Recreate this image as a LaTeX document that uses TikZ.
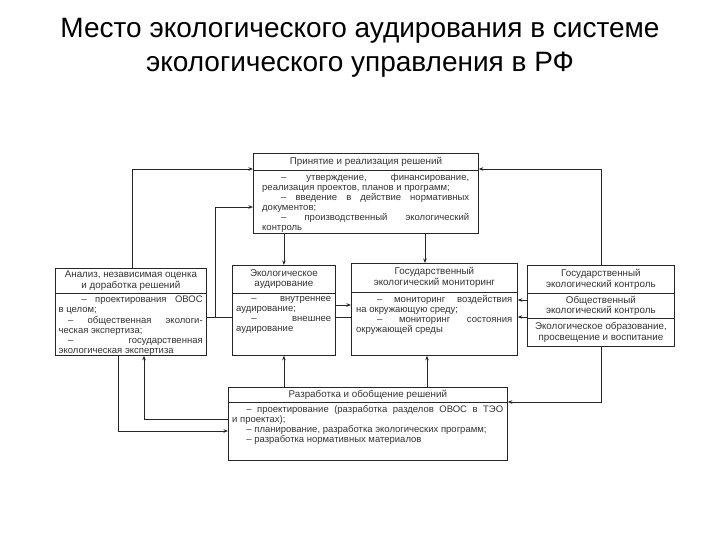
\documentclass[tikz,border=0pt]{standalone}
\usepackage{fontspec}
\setmainfont{Liberation Sans}
\usetikzlibrary{arrows.meta,calc}
\begin{document}
\begin{tikzpicture}[x=1pt,y=1pt,
  frame/.style={draw=black!85, line width=0.8pt, inner sep=0pt, anchor=north west},
  head/.style={font=\fontsize{9.8}{10.6}\selectfont, align=center, inner sep=0pt, text=black!80},
  body/.style={font=\fontsize{9.5}{10.1}\selectfont, align=justify, inner sep=0pt, anchor=north west, text=black!80},
  conn/.style={draw=black!85, line width=0.8pt},
  arr/.style={conn, -{Stealth[length=4.5pt,width=3.5pt]}},
  ttl/.style={font=\fontsize{28}{33}\selectfont, inner sep=0pt, anchor=base}
]
\useasboundingbox (0,0) rectangle (720,-540);
\fill[white] (0,0) rectangle (720,-540);

% title
\node[ttl] (t1) at (360,-38) {Место экологического аудирования в системе};
\node[ttl] (t2) at (360,-72) {экологического управления в РФ};

% top box
\node[frame, minimum width=225, minimum height=80] (tb) at (253,-153) {};
\draw[conn] ([yshift=-17]tb.north west) -- ([yshift=-17]tb.north east);
\node[head] (tbh) at ($(tb.north)+(0,-8.5)$) {Принятие и реализация решений};
\node[body, text width=207] (tbb) at (262,-173) {\hspace*{2em}– утверждение, финансирование,\linebreak реализация проектов, планов и программ;\\\hspace*{2em}– введение в действие нормативных\linebreak документов;\\\hspace*{2em}– производственный экологический\linebreak контроль};

% analysis box
\node[frame, minimum width=151, minimum height=87] (an) at (55,-268) {};
\draw[conn] ([yshift=-25]an.north west) -- ([yshift=-25]an.north east);
\node[head] (anh) at ($(an.north)+(0,-12.5)$) {Анализ, независимая оценка\\и доработка решений};
\node[body, text width=144] (anb) at (58.5,-296) {\hspace*{2.4em}– проектирования ОВОС\linebreak в целом;\\\hspace*{1em}– общественная экологи-\linebreak ческая экспертиза;\\\hspace*{1em}– государственная\linebreak экологическая экспертиза};

% audit box
\node[frame, minimum width=103, minimum height=90] (au) at (232,-265) {};
\draw[conn] ([yshift=-28]au.north west) -- ([yshift=-28]au.north east);
\node[head] (auh) at ($(au.north)+(0,-14)$) {Экологическое\\аудирование};
\node[body, text width=95] (aub) at (236,-296) {\hspace*{1.6em}– внутреннее\linebreak аудирование;\\\hspace*{1.6em}– внешнее\linebreak аудирование};

% monitoring box
\node[frame, minimum width=166, minimum height=92] (mo) at (351,-263) {};
\draw[conn] ([yshift=-29]mo.north west) -- ([yshift=-29]mo.north east);
\node[head] (moh) at ($(mo.north)+(0,-14.5)$) {Государственный\\экологический мониторинг};
\node[body, text width=156] (mob) at (356,-295) {\hspace*{2.2em}– мониторинг воздействия\linebreak на окружающую среду;\\\hspace*{2.2em}– мониторинг состояния\linebreak окружающей среды};

% right column
\node[frame, minimum width=147, minimum height=28] (rc1) at (527,-265) {};
\node[frame, minimum width=147, minimum height=25] (rc2) at (527,-293) {};
\node[frame, minimum width=147, minimum height=28] (rc3) at (527,-318) {};
\node[head] (rc1t) at (rc1.center) {Государственный\\экологический контроль};
\node[head] (rc2t) at (rc2.center) {Общественный\\экологический контроль};
\node[head] (rc3t) at (rc3.center) {Экологическое образование,\\просвещение и воспитание};

% bottom box
\node[frame, minimum width=279, minimum height=73] (bt) at (228,-387) {};
\draw[conn] ([yshift=-15]bt.north west) -- ([yshift=-15]bt.north east);
\node[head] (bth) at ($(bt.north)+(0,-7.5)$) {Разработка и обобщение решений};
\node[body, text width=271] (btb) at (232,-405) {\hspace*{1.5em}– проектирование (разработка разделов ОВОС в ТЭО\linebreak и проектах);\\\hspace*{1.5em}– планирование, разработка экологических программ;\\\hspace*{1.5em}– разработка нормативных материалов};

% helper coordinates
\coordinate (h300) at (0,-300);
\coordinate (h305) at (0,-305);
\coordinate (h317) at (0,-317);
\coordinate (m1) at ([xshift=74]mo.north west);
\coordinate (m2) at ([xshift=76]mo.south west);
\coordinate (j1) at ($(an.north east)+(9,-49)$);

% connectors
\draw[arr] ([xshift=77]an.north west) |- ([yshift=-16]tb.north west);
\draw[arr] ([yshift=-49]an.north east) -- (j1) |- ([yshift=-54]tb.north west);
\draw[conn] (j1) -- (au.west |- j1);
\draw[arr] (au.north |- tb.south) -- (au.north);
\draw[arr] (m1 |- tb.south) -- (m1);
\draw[arr] (rc1.north) |- ([yshift=-16]tb.north east);
\draw[arr] (rc2.west |- h300) -- (mo.east |- h300);
\draw[arr] (rc2.west |- h317) -- (mo.east |- h317);
\draw[arr] (au.east |- h305) -- (mo.west |- h305);
\draw[conn] (au.east |- h317) -- (mo.west |- h317);
\draw[arr] (au.south |- bt.north) -- (au.south);
\draw[arr] (m2 |- bt.north) -- (m2);
\draw[arr] ([yshift=-32]bt.north west) -| ([xshift=89]an.south west);
\draw[arr] ([xshift=63]an.south west) |- ([yshift=-44]bt.north west);
\draw[arr] (rc3.south) |- ([yshift=-15]bt.north east);
\end{tikzpicture}
\end{document}
